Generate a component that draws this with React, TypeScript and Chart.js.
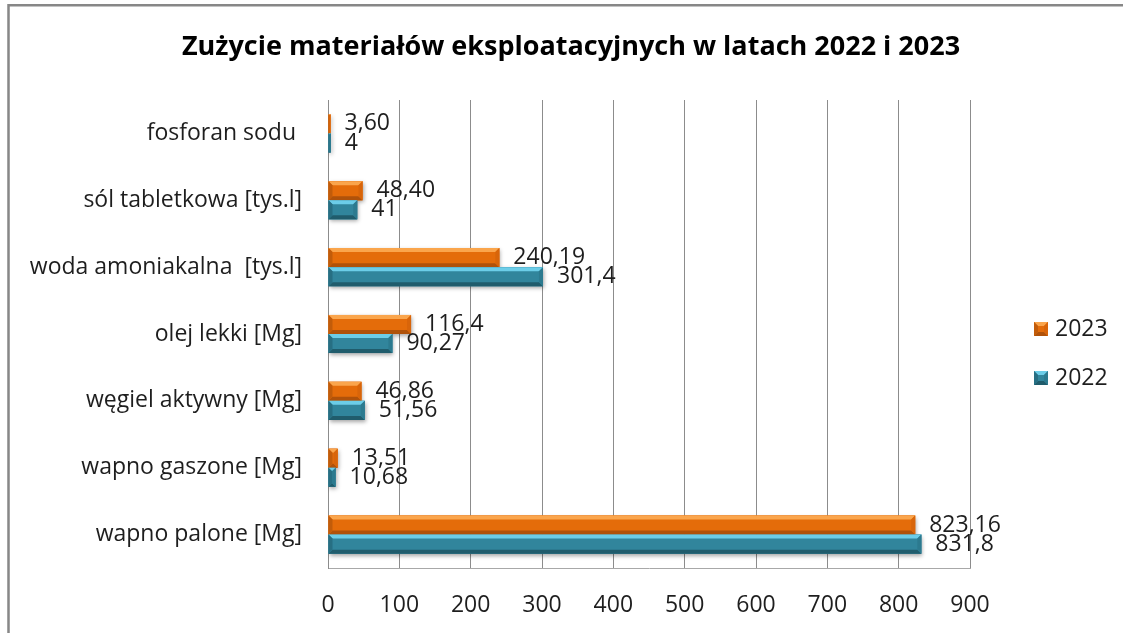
import { useEffect, useRef } from 'react';
import { Chart, registerables } from 'chart.js';

Chart.register(...registerables);

const title = 'Zużycie materiałów eksploatacyjnych w latach 2022 i 2023';
const categories = [
  'fosforan sodu ',
  'sól tabletkowa [tys.l]',
  'woda amoniakalna  [tys.l]',
  'olej lekki [Mg]',
  'węgiel aktywny [Mg]',
  'wapno gaszone [Mg]',
  'wapno palone [Mg]',
];
const seriesNames = ['2023', '2022'];
const values2023 = [3.6, 48.4, 240.19, 116.4, 46.86, 13.51, 823.16];
const values2022 = [4, 41, 301.4, 90.27, 51.56, 10.68, 831.8];
const labels2023 = ['3,60', '48,40', '240,19', '116,4', '46,86', '13,51', '823,16'];
const labels2022 = ['4', '41', '301,4', '90,27', '51,56', '10,68', '831,8'];
const axisMin = 0;
const axisMax = 900;
const axisStep = 100;

const FONT = '"Open Sans", "Noto Sans", sans-serif';
const TEXT = '#1e1e1e';

const palettes = [
  { main: '#E46C0A', light: '#FAA54C', dark: '#B0520A', left: '#C25C0A', right: '#D8650A' },
  { main: '#31859C', light: '#6CCDE8', dark: '#205C6C', left: '#276F83', right: '#2C7A8F' },
];

const dataLabels = [labels2023, labels2022];

function bevelRect(ctx: CanvasRenderingContext2D, x0: number, y0: number, x1: number, y1: number, pal: any) {
  const w = x1 - x0;
  const h = y1 - y0;
  const b = Math.max(0, Math.min(4, w / 2, h / 2));
  ctx.fillStyle = pal.main;
  ctx.fillRect(x0, y0, w, h);
  const poly = (pts: number[][], color: string) => {
    ctx.beginPath();
    ctx.moveTo(pts[0][0], pts[0][1]);
    for (let i = 1; i < pts.length; i++) ctx.lineTo(pts[i][0], pts[i][1]);
    ctx.closePath();
    ctx.fillStyle = color;
    ctx.fill();
  };
  poly([[x0, y0], [x1, y0], [x1 - b, y0 + b], [x0 + b, y0 + b]], pal.light);
  poly([[x0, y1], [x1, y1], [x1 - b, y1 - b], [x0 + b, y1 - b]], pal.dark);
  poly([[x0, y0], [x0 + b, y0 + b], [x0 + b, y1 - b], [x0, y1]], pal.left);
  poly([[x1, y0], [x1 - b, y0 + b], [x1 - b, y1 - b], [x1, y1]], pal.right);
}

const framePlugin = {
  id: 'frame',
  beforeDraw(chart: any) {
    const ctx = chart.ctx as CanvasRenderingContext2D;
    ctx.save();
    ctx.fillStyle = '#ffffff';
    ctx.fillRect(0, 0, chart.width, chart.height);
    ctx.strokeStyle = '#878787';
    ctx.lineWidth = 2.5;
    ctx.beginPath();
    ctx.moveTo(8.5, chart.height);
    ctx.lineTo(8.5, 5.2);
    ctx.lineTo(chart.width, 5.2);
    ctx.stroke();
    ctx.restore();
  },
};

const barPlugin = {
  id: 'bevelBars',
  beforeDatasetsDraw(chart: any) {
    const ctx = chart.ctx as CanvasRenderingContext2D;
    ctx.save();
    ctx.shadowColor = 'rgba(0,0,0,0.35)';
    ctx.shadowBlur = 4;
    ctx.shadowOffsetX = 1;
    ctx.shadowOffsetY = 2;
  },
  afterDatasetsDraw(chart: any) {
    const ctx = chart.ctx as CanvasRenderingContext2D;
    ctx.restore();
    ctx.save();
    chart.data.datasets.forEach((_ds: any, di: number) => {
      const meta = chart.getDatasetMeta(di);
      meta.data.forEach((el: any, i: number) => {
        const { x, y, base, height } = el.getProps(['x', 'y', 'base', 'height'], true);
        const x0 = Math.min(x, base);
        const x1 = Math.max(x, base);
        bevelRect(ctx, x0, y - height / 2, x1, y + height / 2, palettes[di]);
        ctx.font = `23px ${FONT}`;
        ctx.fillStyle = TEXT;
        ctx.textAlign = 'left';
        ctx.textBaseline = 'middle';
        ctx.fillText(dataLabels[di][i], x1 + 14, y);
      });
    });
    ctx.restore();
  },
};

const decorPlugin = {
  id: 'decor',
  afterDraw(chart: any) {
    const ctx = chart.ctx as CanvasRenderingContext2D;
    ctx.save();
    ctx.fillStyle = '#000';
    ctx.font = `bold 27px ${FONT}`;
    ctx.textAlign = 'center';
    ctx.textBaseline = 'middle';
    ctx.fillText(title, 571, 47);
    // legend
    const ys = [329, 378];
    seriesNames.forEach((name, i) => {
      const cy = ys[i];
      bevelRect(ctx, 1034, cy - 7, 1048, cy + 7, palettes[i]);
      ctx.font = `23px ${FONT}`;
      ctx.fillStyle = TEXT;
      ctx.textAlign = 'left';
      ctx.textBaseline = 'middle';
      ctx.fillText(name, 1055, cy);
    });
    ctx.restore();
  },
};

export default function App() {
  const ref = useRef<HTMLCanvasElement | null>(null);
  useEffect(() => {
    if (!ref.current) return;
    const chart = new Chart(ref.current, {
      type: 'bar',
      data: {
        labels: categories,
        datasets: [
          { label: seriesNames[0], data: values2023, backgroundColor: palettes[0].main },
          { label: seriesNames[1], data: values2022, backgroundColor: palettes[1].main },
        ],
      },
      options: {
        indexAxis: 'y',
        responsive: false,
        animation: false,
        events: [],
        categoryPercentage: 0.57,
        barPercentage: 1,
        layout: { padding: { top: 100, right: 153, left: 0, bottom: 0 } },
        plugins: {
          legend: { display: false },
          title: { display: false },
          tooltip: { enabled: false },
        },
        scales: {
          x: {
            min: axisMin,
            max: axisMax,
            ticks: { stepSize: axisStep, font: { family: FONT, size: 23 }, color: TEXT, padding: 24 },
            grid: { color: '#8c8c8c', drawTicks: false, lineWidth: 1 },
            border: { display: true, color: '#a8a8a8' },
            afterFit: (s: any) => { s.height = 65; },
          },
          y: {
            ticks: { font: { family: FONT, size: 23 }, color: TEXT, padding: 26 },
            grid: { display: false, drawTicks: false },
            border: { display: true, color: '#8c8c8c' },
            afterFit: (s: any) => { s.width = 328; },
          },
        },
      } as any,
      plugins: [framePlugin, barPlugin, decorPlugin],
    });
    return () => chart.destroy();
  }, []);
  return (
    <div style={{ position: 'fixed', left: 0, top: 0, width: 1123, height: 633, background: '#fff' }}>
      <canvas ref={ref} width={1123} height={633} style={{ display: 'block' }} />
    </div>
  );
}
